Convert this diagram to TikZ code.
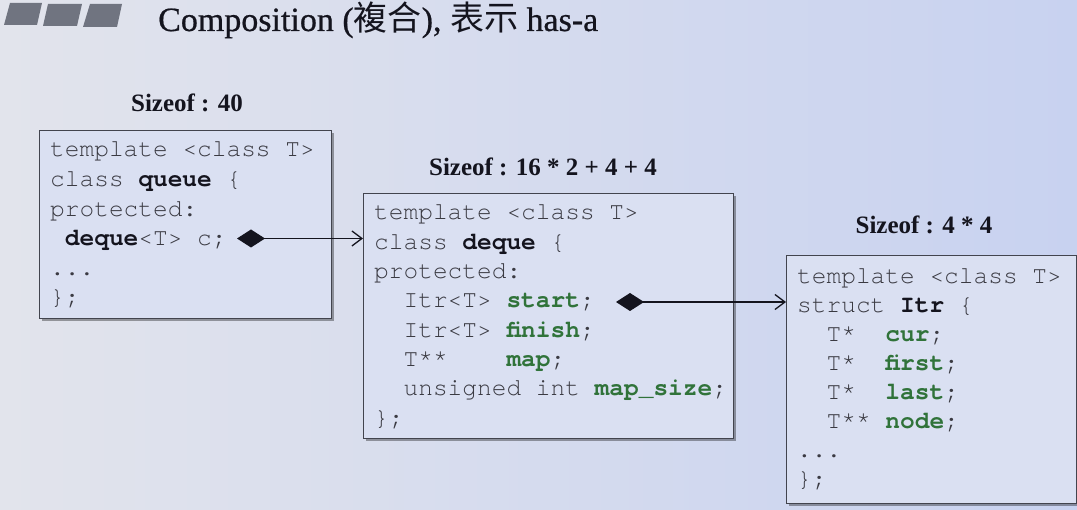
\documentclass[tikz,border=0pt]{standalone}
\usepackage{fontspec}
\setmainfont{Liberation Serif}
\newfontfamily\cjk{Noto Sans CJK TC}
\newfontfamily\codefont{TeX Gyre Cursor}
\usetikzlibrary{arrows.meta,shadows}
\definecolor{bgl}{RGB}{226,228,236}
\definecolor{bgr}{RGB}{200,210,240}
\definecolor{boxfill}{RGB}{218,224,242}
\definecolor{codegray}{RGB}{58,58,66}
\definecolor{kw}{RGB}{20,20,30}
\definecolor{grn}{RGB}{48,115,58}
\definecolor{bargray}{RGB}{112,116,128}
\definecolor{edge}{RGB}{66,68,78}
\tikzset{
  codebox/.style={draw=edge, line width=1.2pt, fill=boxfill, inner sep=0pt, anchor=north west,
    drop shadow={shadow xshift=2pt, shadow yshift=-2pt, fill=black, opacity=0.35}},
  code/.style={anchor=base west, inner sep=0pt, text=codegray, font=\codefont\fontsize{24.5}{29}\selectfont},
  sizelbl/.style={anchor=base, inner sep=0pt, text=kw, font=\bfseries\fontsize{25}{28}\selectfont},
  comp/.style={draw=kw, line width=1.3pt, {Diamond[length=28pt,width=18pt,fill=kw]}-{Straight Barb[length=10pt,width=15pt,line width=1.3pt]}},
}
\newcommand{\kwd}[1]{\textcolor{kw}{\bfseries #1}}
\newcommand{\gf}[1]{\textcolor{grn}{\bfseries #1}}
\begin{document}
\begin{tikzpicture}[x=1pt,y=-1pt]
\useasboundingbox (0,0) rectangle (1077,510);
\shade[left color=bgl, right color=bgr] (0,0) rectangle (1077,510);
% bars
\fill[bargray] (4,25) -- (10,3) -- (42,3) -- (37,25) -- cycle;
\fill[bargray] (43,26) -- (48,4) -- (82,4) -- (77,26) -- cycle;
\fill[bargray] (83,27) -- (90,4) -- (122,4) -- (117,27) -- cycle;
\node[anchor=base west, inner sep=0pt, text=kw, font=\addfontfeature{FakeBold=0.6}\fontsize{34}{38}\selectfont] (title) at (158,31)
  {Composition ({\cjk 複合}), {\cjk 表示} has-a};
% sizes
\node[sizelbl] (s1) at (187,112) {Sizeof : 40};
\node[sizelbl] (s2) at (543,176) {Sizeof : 16 * 2 + 4 + 4};
\node[sizelbl] (s3) at (924,234) {Sizeof : 4 * 4};
% boxes
\node[codebox, minimum width=292pt, minimum height=188pt] (b1) at (39,130) {};
\node[codebox, minimum width=370pt, minimum height=245pt] (b2) at (363,193) {};
\node[codebox, minimum width=290pt, minimum height=248pt] (b3) at (786,255) {};
% box 1 text
\node[code] (q1) at (50,157) {template <class T>};
\node[code] (q2) at (50,186.6) {class \kwd{queue} \{};
\node[code] (q3) at (50,216.2) {protected:};
\node[code] (q4) at (50,245.8) {\ \kwd{deque}<T> c;};
\node[code] (q5) at (50,275.4) {...};
\node[code] (q6) at (50,305) {\};};
% box 2 text
\node[code] (d1) at (374,220) {template <class T>};
\node[code] (d2) at (374,249.3) {class \kwd{deque} \{};
\node[code] (d3) at (374,278.6) {protected:};
\node[code] (d4) at (374,307.9) {\ \ Itr<T> \gf{start};};
\node[code] (d5) at (374,337.2) {\ \ Itr<T> \gf{finish};};
\node[code] (d6) at (374,366.5) {\ \ T**\ \ \ \ \gf{map};};
\node[code] (d7) at (374,395.8) {\ \ unsigned int \gf{map\_size};};
\node[code] (d8) at (374,425.1) {\};};
% box 3 text
\node[code] (i1) at (797,284) {template <class T>};
\node[code] (i2) at (797,313) {struct \kwd{Itr} \{};
\node[code] (i3) at (797,342) {\ \ T*\ \ \gf{cur};};
\node[code] (i4) at (797,371) {\ \ T*\ \ \gf{first};};
\node[code] (i5) at (797,400) {\ \ T*\ \ \gf{last};};
\node[code] (i6) at (797,429) {\ \ T** \gf{node};};
\node[code] (i7) at (797,458) {...};
\node[code] (i8) at (797,487) {\};};
% connectors
\coordinate (c1) at (237,238.5);
\coordinate (c2) at (616,302);
\draw[comp] (c1) -- (c1 -| b2.west);
\draw[comp] (c2) -- (c2 -| b3.west);
\end{tikzpicture}
\end{document}
